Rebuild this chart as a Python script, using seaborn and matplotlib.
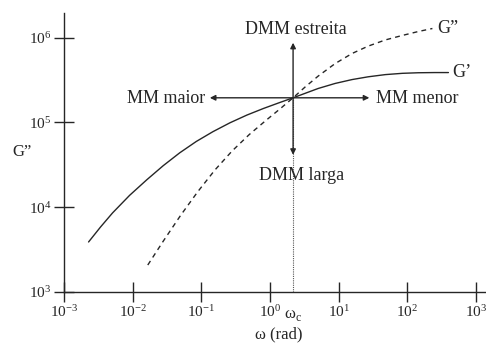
import matplotlib
matplotlib.use("Agg")
import matplotlib.pyplot as plt
import seaborn as sns
import pandas as pd
from matplotlib.ticker import LogFormatterSciNotation, NullLocator

# Storage modulus G' (solid curve)
omega_gp = [2.28e-3, 3.41e-3, 5.10e-3, 9.03e-3, 1.60e-2, 2.79e-2, 4.85e-2, 8.45e-2,
            0.147, 0.261, 0.461, 0.804, 1.40, 2.17, 3.24, 5.02, 8.89, 15.7, 27.0,
            47.8, 84.5, 145, 251, 397]
gp = [3.89e3, 5.85e3, 8.57e3, 1.38e4, 2.10e4, 3.09e4, 4.38e4, 5.96e4,
      7.76e4, 9.89e4, 1.22e5, 1.46e5, 1.72e5, 1.95e5, 2.20e5, 2.51e5, 2.88e5, 3.20e5, 3.45e5,
      3.66e5, 3.79e5, 3.85e5, 3.87e5, 3.87e5]

# Loss modulus G'' (dashed curve)
omega_gpp = [1.66e-2, 2.82e-2, 5.01e-2, 8.91e-2, 0.158, 0.282, 0.501, 0.891, 1.41, 2.17,
             3.24, 5.02, 8.89, 15.7, 27.0, 47.8, 84.5, 145, 232]
gpp = [2.08e3, 4.03e3, 8.04e3, 1.53e4, 2.75e4, 4.62e4, 7.21e4, 1.07e5, 1.45e5, 1.95e5,
       2.61e5, 3.51e5, 4.94e5, 6.50e5, 7.94e5, 9.38e5, 1.06e6, 1.18e6, 1.28e6]

# Crossover point (omega_c, G_c) and arrow tips
omega_c = 2.17
g_c = 1.95e5
arrow_up_g = 8.7e5
arrow_down_g = 4.14e4
arrow_left_w = 0.133
arrow_right_w = 28.0

xticks = [1e-3, 1e-2, 1e-1, 1e0, 1e1, 1e2, 1e3]
yticks = [1e3, 1e4, 1e5, 1e6]

sns.set_style("white")
plt.rcParams["font.family"] = ["Liberation Serif", "DejaVu Serif"]
plt.rcParams["mathtext.fontset"] = "custom"
plt.rcParams["mathtext.rm"] = "Liberation Serif"
plt.rcParams["axes.unicode_minus"] = False

ink = "#262626"

fig = plt.figure(figsize=(4.86, 3.47), dpi=100)
W, H = 486, 347
ax = fig.add_axes([64 / W, (H - 292) / H, (486 - 64) / W, (292 - 13) / H])

df_gp = pd.DataFrame({"omega": omega_gp, "G": gp})
df_gpp = pd.DataFrame({"omega": omega_gpp, "G": gpp})
sns.lineplot(data=df_gp, x="omega", y="G", ax=ax, color=ink, lw=1.0,
             sort=False, estimator=None)
sns.lineplot(data=df_gpp, x="omega", y="G", ax=ax, color=ink, lw=1.0,
             sort=False, estimator=None, linestyle=(0, (3.5, 3)))

ax.set_xscale("log")
ax.set_yscale("log")
ax.set_xlim(1e-3, 1.4e3)
ax.set_ylim(1e3, 1.95e6)

ax.set_xticks(xticks)
ax.set_yticks(yticks)
ax.xaxis.set_minor_locator(NullLocator())
ax.yaxis.set_minor_locator(NullLocator())
ax.xaxis.set_major_formatter(LogFormatterSciNotation())
ax.yaxis.set_major_formatter(LogFormatterSciNotation())
ax.tick_params(bottom=True, left=True, direction="inout", length=14, width=1.0,
               color=ink, labelsize=11, labelcolor=ink)
ax.tick_params(axis="x", pad=2)
ax.tick_params(axis="y", pad=2)

for side in ("top", "right"):
    ax.spines[side].set_visible(False)
for side in ("left", "bottom"):
    ax.spines[side].set_color(ink)
    ax.spines[side].set_linewidth(1.0)

ax.set_xlabel("ω (rad)", fontsize=12, color=ink)
ax.xaxis.set_label_coords(0.509, -0.125)
ax.set_ylabel("G\u201d", fontsize=12, color=ink, rotation=0, va="center")
ax.yaxis.set_label_coords(-0.1, 0.5)

# Dotted guide from the crossover down to the frequency axis
ax.plot([omega_c, omega_c], [1e3, g_c], color="#555555", lw=0.8,
        linestyle=(0, (1, 1)))
ax.text(omega_c, 10 ** (3 - 15 / 84.7), "ω$_{\\mathrm{c}}$", ha="center", va="top",
        fontsize=12, color=ink)

arrow_kw = dict(arrowstyle="-|>", color=ink, lw=1.0, mutation_scale=8,
                shrinkA=0, shrinkB=0)
for tip in [(omega_c, arrow_up_g), (omega_c, arrow_down_g),
            (arrow_left_w, g_c), (arrow_right_w, g_c)]:
    ax.annotate("", xy=tip, xytext=(omega_c, g_c), arrowprops=arrow_kw)

label_kw = dict(fontsize=13, color=ink)
ax.text(2.4, 1.24e6, "DMM estreita", ha="center", va="center", **label_kw)
ax.text(2.93, 2.35e4, "DMM larga", ha="center", va="center", **label_kw)
ax.text(0.1125, 1.9e5, "MM maior", ha="right", va="center", **label_kw)
ax.text(35.3, 1.9e5, "MM menor", ha="left", va="center", **label_kw)
ax.text(274, 1.27e6, "G\u201d", ha="left", va="center", **label_kw)
ax.text(454, 3.86e5, "G\u2019", ha="left", va="center", **label_kw)

fig.savefig("out.png", dpi=100)
